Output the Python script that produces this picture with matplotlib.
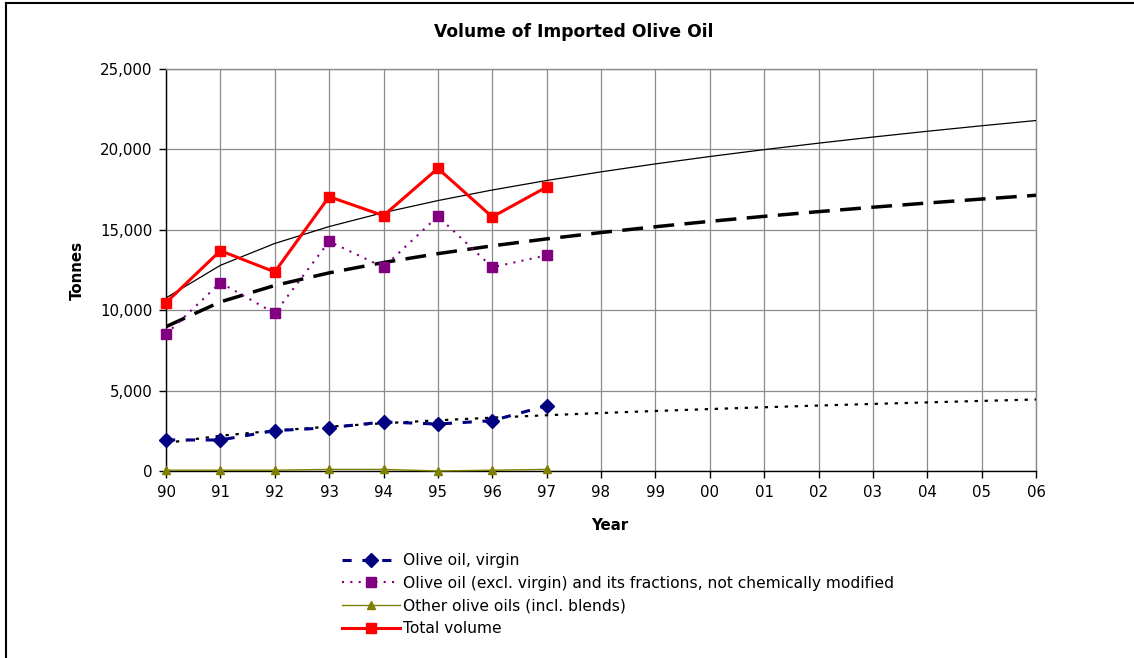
import numpy as np
import matplotlib
matplotlib.use("Agg")
import matplotlib.pyplot as plt
from matplotlib.lines import Line2D

plt.rcParams['font.family'] = ['DejaVu Sans']

years = ['90', '91', '92', '93', '94', '95', '96', '97', '98', '99',
         '00', '01', '02', '03', '04', '05', '06']
virgin = [1930, 1930, 2510, 2690, 3050, 2920, 3130, 4060]
excl_virgin = [8500, 11710, 9810, 14280, 12670, 15840, 12670, 13410]
other = [50, 50, 50, 100, 100, 0, 50, 100]
total = [10470, 13700, 12380, 17060, 15880, 18820, 15800, 17660]

labels = ['Olive oil, virgin',
          'Olive oil (excl. virgin) and its fractions, not chemically modified',
          'Other olive oils (incl. blends)',
          'Total volume']

fig = plt.figure(figsize=(11.34, 6.58), dpi=100)
ax = fig.add_axes([166/1134, 1-471/658, (1036-166)/1134, (471-69)/658])

xall = np.arange(len(years))
xd = np.arange(len(total))


def power_trend(vals):
    xs = np.arange(1, len(vals) + 1)
    b, lna = np.polyfit(np.log(xs), np.log(vals), 1)
    xf = np.arange(1, len(years) + 1)
    return np.exp(lna) * xf ** b


# trend lines
ax.plot(xall, power_trend(total), color='black', lw=0.9, zorder=3)
ax.plot(xall, power_trend(excl_virgin), color='black', lw=2.5,
        dashes=(6, 3), zorder=3)
ax.plot(xall, power_trend(virgin), color='black', lw=1.6,
        dashes=(1.5, 3), zorder=3)

# data series
ax.plot(xd, virgin, color='#000080', lw=2.2, dashes=(3, 3.5), marker='D',
        ms=7, mfc='#000080', mec='#000080', zorder=4, clip_on=False)
ax.plot(xd, excl_virgin, color='#800080', lw=1.5, dashes=(1, 3), marker='s',
        ms=7, mfc='#800080', mec='#800080', zorder=4, clip_on=False)
ax.plot(xd, other, color='#808000', lw=1.0, marker='^',
        ms=6, mfc='#808000', mec='#808000', zorder=4, clip_on=False)
ax.plot(xd, total, color='#ff0000', lw=2.2, marker='s',
        ms=7, mfc='#ff0000', mec='#ff0000', zorder=5, clip_on=False)

ax.set_xlim(0, len(years) - 1)
ax.set_ylim(0, 25000)
ax.set_xticks(xall)
ax.set_xticklabels(years)
ax.set_yticks(np.arange(0, 25001, 5000))
ax.set_yticklabels([f'{v:,}' for v in range(0, 25001, 5000)])
ax.grid(True, color='#8c8c8c', lw=0.9)
ax.set_axisbelow(True)
ax.tick_params(direction='out', length=5, width=1, labelsize=10.8,
               colors='black', pad=5)
for s in ['left', 'bottom']:
    ax.spines[s].set_color('black')
    ax.spines[s].set_linewidth(1.0)
for s in ['top', 'right']:
    ax.spines[s].set_color('#8c8c8c')
    ax.spines[s].set_linewidth(1.0)

fig.text(574/1134, 1 - 32/658, 'Volume of Imported Olive Oil',
         ha='center', va='center', fontsize=12.3, fontweight='bold')
fig.text(77/1134, 1 - 270/658, 'Tonnes', rotation=90, ha='center',
         va='center', fontsize=10.8, fontweight='bold')
fig.text(610/1134, 1 - 525/658, 'Year', ha='center',
         va='center', fontsize=10.8, fontweight='bold')

handles = [
    Line2D([], [], color='#000080', lw=2.2, dashes=(3, 3.5), marker='D',
           ms=7, mfc='#000080', mec='#000080'),
    Line2D([], [], color='#800080', lw=1.5, dashes=(1, 3), marker='s',
           ms=7, mfc='#800080', mec='#800080'),
    Line2D([], [], color='#808000', lw=1.0, marker='^', ms=6,
           mfc='#808000', mec='#808000'),
    Line2D([], [], color='#ff0000', lw=2.2, marker='s', ms=7,
           mfc='#ff0000', mec='#ff0000'),
]
fig.legend(handles, labels, loc='upper left',
           bbox_to_anchor=(342/1134, 1 - 553/658), frameon=False,
           fontsize=11.2, handlelength=3.7, handletextpad=0.25,
           labelspacing=0.5, borderpad=0, borderaxespad=0)

# outer chart border (left and top edges visible)
fig.add_artist(Line2D([6/1134, 6/1134], [0, 1 - 3/658], color='black',
                      lw=1.5, transform=fig.transFigure))
fig.add_artist(Line2D([6/1134, 1], [1 - 3/658, 1 - 3/658], color='black',
                      lw=1.5, transform=fig.transFigure))

fig.savefig('out.png', dpi=100)
